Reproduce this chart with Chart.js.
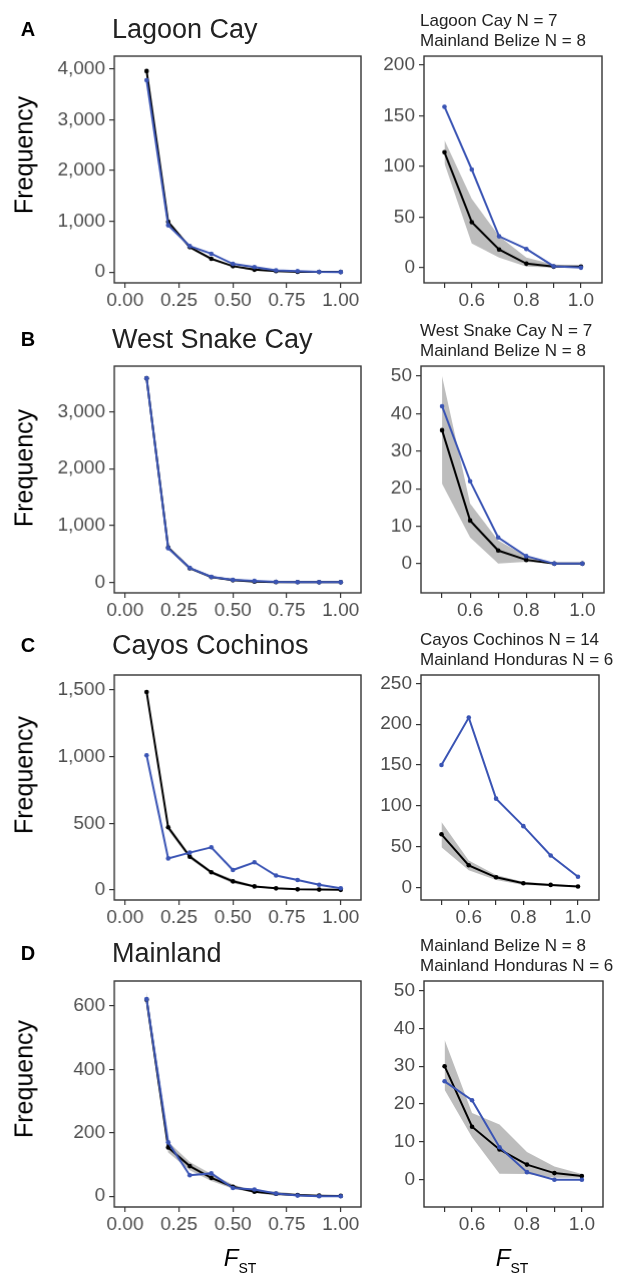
<!DOCTYPE html>
<html>
<head>
<meta charset="utf-8">
<script src="https://cdn.jsdelivr.net/npm/chart.js@4/dist/chart.umd.min.js"></script>
<style>
body { margin: 0; background: #fff; font-family: "Liberation Sans", Arial, sans-serif; }
#fig { position: relative; width: 619px; height: 1276px; overflow: hidden; background: #fff; }
#fig canvas { position: absolute; }
.txt { position: absolute; white-space: nowrap; line-height: 1; color: #1a1a1a; }
</style>
</head>
<body>
<div id="fig"></div>
<script>
// F_ST bins
const fst = [0.1, 0.2, 0.3, 0.4, 0.5, 0.6, 0.7, 0.8, 0.9, 1.0];

// A - Lagoon Cay
const lagoonObs = [3780, 920, 510, 360, 159, 97, 31, 18.5, 1.4, 0];
const lagoonExp = [3960, 990, 490, 260, 114, 45, 18, 4, 1, 1];
const lagoonLo  = [3920, 970, 475, 245, 103, 24, 10, 1, 0, 0];
const lagoonHi  = [4000, 1010, 505, 275, 126, 68, 31, 10, 3, 2];

// B - West Snake Cay
const snakeObs = [3590, 600, 252, 94, 42, 22, 7, 2, 0, 0];
const snakeExp = [3590, 612, 246, 90, 35.6, 11.5, 3.5, 1, 0, 0];
const snakeLo  = [3550, 590, 235, 80, 21.3, 7, 0, 0.5, 0, 0];
const snakeHi  = [3620, 640, 258, 100, 50, 16, 6.2, 2, 0, 0];

// C - Cayos Cochinos
const cochinosObs = [1010, 237, 280, 320, 150, 208, 108.7, 75, 39, 13];
const cochinosExp = [1485, 470, 250, 133, 65, 27, 12.3, 5, 3, 1];
const cochinosLo  = [1460, 450, 235, 122, 49, 21, 9, 3, 2, 0.5];
const cochinosHi  = [1510, 490, 265, 145, 80, 33, 15, 7, 4, 2];

// D - Mainland
const mainlandObs = [622, 170, 66, 72, 26, 21, 8.6, 2, 0, 0];
const mainlandExp = [620, 154, 95, 58, 30, 14, 8, 4, 1.75, 1];
const mainlandLo  = [595, 138, 82, 48, 23.8, 11.2, 1.6, 1.5, 0.5, 0.5];
const mainlandHi  = [645, 172, 108, 70, 37, 17.6, 14.6, 7.3, 3.5, 1.5];

// tick labels
const leftXTicks = [0, 0.25, 0.5, 0.75, 1];
const rightXTicks = [0.5, 0.6, 0.7, 0.8, 0.9, 1.0];
const rightXLabelled = [0.6, 0.8, 1.0];
const lagoonYTicks = [0, 1000, 2000, 3000, 4000];
const lagoonZoomYTicks = [0, 50, 100, 150, 200];
const snakeYTicks = [0, 1000, 2000, 3000];
const snakeZoomYTicks = [0, 10, 20, 30, 40, 50];
const cochinosYTicks = [0, 500, 1000, 1500];
const cochinosZoomYTicks = [0, 50, 100, 150, 200, 250];
const mainlandYTicks = [0, 200, 400, 600];
const mainlandZoomYTicks = [0, 10, 20, 30, 40, 50];

const rowTitles = ['Lagoon Cay', 'West Snake Cay', 'Cayos Cochinos', 'Mainland'];
const rowLetters = ['A', 'B', 'C', 'D'];
const subtitles = [
  ['Lagoon Cay N = 7', 'Mainland Belize N = 8'],
  ['West Snake Cay N = 7', 'Mainland Belize N = 8'],
  ['Cayos Cochinos N = 14', 'Mainland Honduras N = 6'],
  ['Mainland Belize N = 8', 'Mainland Honduras N = 6']
];

const BLUE = '#3a54b4';
const GREY_RIBBON = '#bdbdbd';
const AXIS = '#333333';
const TICK_TXT = '#4d4d4d';
const fig = document.getElementById('fig');

const PAD_L = 90, PAD_T = 20, PAD_R = 20, PAD_B = 40;

const boxPlugin = {
  id: 'panelBox',
  afterDatasetsDraw(chart) {
    const a = chart.chartArea, c = chart.ctx;
    c.save();
    c.strokeStyle = AXIS;
    c.lineWidth = 1.4;
    c.strokeRect(a.left, a.top, a.right - a.left, a.bottom - a.top);
    c.restore();
  }
};

function pts(xs, ys) {
  return xs.map((x, i) => ({ x: x, y: ys[i] }));
}

function makePanel(box, xs, obs, exp, lo, hi, xr, yr, xTicks, yTicks, xFmt) {
  const cv = document.createElement('canvas');
  const w = box.r - box.l + PAD_L + PAD_R;
  const h = box.b - box.t + PAD_T + PAD_B;
  cv.width = w; cv.height = h;
  cv.style.left = (box.l - PAD_L) + 'px';
  cv.style.top = (box.t - PAD_T) + 'px';
  cv.style.width = w + 'px';
  cv.style.height = h + 'px';
  fig.appendChild(cv);

  const tickFont = { family: '"Liberation Sans", Arial, sans-serif', size: 19 };
  const gridOpts = { display: true, drawOnChartArea: false, drawTicks: true, tickLength: 5, color: AXIS, lineWidth: 1.2 };

  new Chart(cv.getContext('2d'), {
    type: 'line',
    data: {
      datasets: [
        { data: pts(xs, obs), borderColor: BLUE, backgroundColor: BLUE, borderWidth: 2,
          pointRadius: 2.3, pointBorderWidth: 0, pointBackgroundColor: BLUE, fill: false, tension: 0 },
        { data: pts(xs, exp), borderColor: '#000', backgroundColor: '#000', borderWidth: 2,
          pointRadius: 2.3, pointBorderWidth: 0, pointBackgroundColor: '#000', fill: false, tension: 0 },
        { data: pts(xs, lo), borderWidth: 0, borderColor: 'rgba(0,0,0,0)', pointRadius: 0, fill: false },
        { data: pts(xs, hi), borderWidth: 0, borderColor: 'rgba(0,0,0,0)', pointRadius: 0,
          fill: '-1', backgroundColor: GREY_RIBBON }
      ]
    },
    options: {
      responsive: false,
      animation: false,
      events: [],
      layout: { padding: { left: 0, top: PAD_T, right: PAD_R, bottom: 0 } },
      plugins: { legend: { display: false }, tooltip: { enabled: false } },
      scales: {
        x: {
          type: 'linear', min: xr[0], max: xr[1], bounds: 'data',
          afterBuildTicks: s => { s.ticks = xTicks.map(v => ({ value: v })); },
          afterFit: s => { s.height = PAD_B; },
          grid: gridOpts,
          border: { display: false },
          ticks: { callback: xFmt, color: TICK_TXT, font: tickFont, padding: 1, maxRotation: 0, autoSkip: false }
        },
        y: {
          type: 'linear', min: yr[0], max: yr[1], bounds: 'data',
          afterBuildTicks: s => { s.ticks = yTicks.map(v => ({ value: v })); },
          afterFit: s => { s.width = PAD_L; },
          grid: gridOpts,
          border: { display: false },
          ticks: { callback: v => v.toLocaleString('en-US'), color: TICK_TXT, font: tickFont, padding: 4, autoSkip: false }
        }
      }
    },
    plugins: [boxPlugin]
  });
}

function addText(html, x, y, css, anchor) {
  const d = document.createElement('div');
  d.className = 'txt';
  d.innerHTML = html;
  d.style.left = x + 'px';
  d.style.top = y + 'px';
  d.style.transform = anchor || 'translate(0,-50%)';
  Object.assign(d.style, css || {});
  fig.appendChild(d);
  return d;
}

const leftFmt = v => v.toFixed(2);
const rightFmt = v => rightXLabelled.some(t => Math.abs(t - v) < 1e-9) ? v.toFixed(1) : '';

const rows = [
  { obs: lagoonObs, exp: lagoonExp, lo: lagoonLo, hi: lagoonHi,
    top: 56, bottom: 282.5, yl: [-215, 4255], yt: lagoonYTicks,
    ry: [-15, 209], ryt: lagoonZoomYTicks, rl: 424, rr: 602,
    titleY: 29, freqY: 155 },
  { obs: snakeObs, exp: snakeExp, lo: snakeLo, hi: snakeHi,
    top: 366, bottom: 592.7, yl: [-188, 3805], yt: snakeYTicks,
    ry: [-7.8, 52.7], ryt: snakeZoomYTicks, rl: 421, rr: 604,
    titleY: 339, freqY: 468 },
  { obs: cochinosObs, exp: cochinosExp, lo: cochinosLo, hi: cochinosHi,
    top: 675, bottom: 900, yl: [-75, 1612], yt: cochinosYTicks,
    ry: [-15.5, 260.2], ryt: cochinosZoomYTicks, rl: 421, rr: 599,
    titleY: 645, freqY: 775 },
  { obs: mainlandObs, exp: mainlandExp, lo: mainlandLo, hi: mainlandHi,
    top: 981, bottom: 1207, yl: [-34, 679], yt: mainlandYTicks,
    ry: [-7.2, 52.5], ryt: mainlandZoomYTicks, rl: 424, rr: 603,
    titleY: 953, freqY: 1079 }
];

rows.forEach((r, i) => {
  makePanel({ l: 114, r: 360.5, t: r.top, b: r.bottom }, fst, r.obs, r.exp, r.lo, r.hi,
    [-0.05, 1.094], r.yl, leftXTicks, r.yt, leftFmt);
  const k = 4; // zoomed panel shows F_ST >= 0.5
  makePanel({ l: r.rl, r: r.rr, t: r.top, b: r.bottom }, fst.slice(k), r.obs.slice(k), r.exp.slice(k),
    r.lo.slice(k), r.hi.slice(k), [0.425, 1.077], r.ry, rightXTicks, r.ryt, rightFmt);

  addText(rowLetters[i], 28, r.titleY, { fontWeight: 'bold', fontSize: '20px', color: '#000' }, 'translate(-50%,-50%)');
  addText(rowTitles[i], 112, r.titleY, { fontSize: '27px', color: '#222' });
  addText(subtitles[i][0], 420, r.top - 36, { fontSize: '17px', color: '#222' });
  addText(subtitles[i][1], 420, r.top - 16, { fontSize: '17px', color: '#222' });
  addText('Frequency', 24, r.freqY, { fontSize: '25px', color: '#000' }, 'translate(-50%,-50%) rotate(-90deg)');
});

const fstLabel = '<span style="font-style:italic">F</span><span style="font-size:14px;position:relative;top:7px">ST</span>';
addText(fstLabel, 240, 1258, { fontSize: '24px', color: '#000' }, 'translate(-50%,-50%)');
addText(fstLabel, 512, 1258, { fontSize: '24px', color: '#000' }, 'translate(-50%,-50%)');
</script>
</body>
</html>
